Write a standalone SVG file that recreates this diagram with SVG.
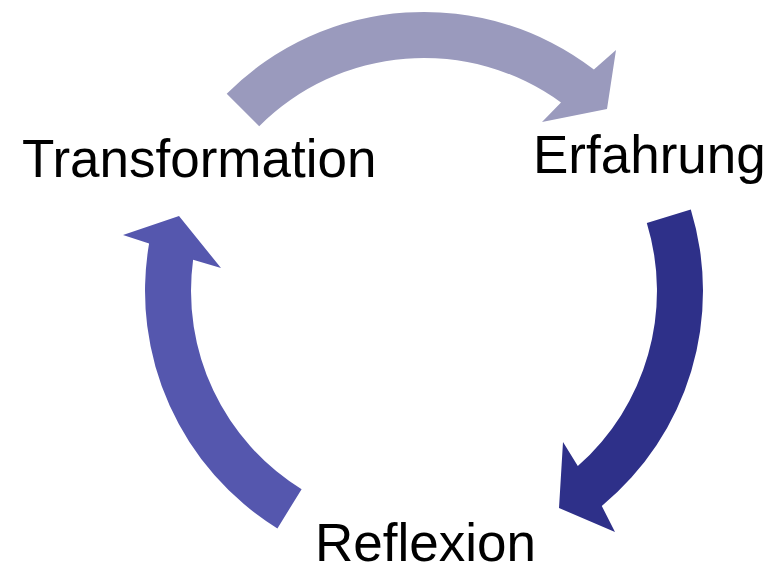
<svg xmlns="http://www.w3.org/2000/svg" width="769" height="573" viewBox="0 0 769 573">
<style>
.lbl{font-family:"Liberation Sans",Arial,sans-serif;font-size:53px;fill:#000}
</style>
<rect width="769" height="573" fill="#fff"/>
<g id="connectors">
<path id="arrow-top" fill="#9A9ABD" d="M 226.7 93.7 A 279 279 0 0 1 593.9 69.6 L 616 50 L 607 109 L 542 122 L 561 102.5 A 233 233 0 0 0 259.2 126.2 Z"/>
<path id="arrow-right" fill="#2E3089" d="M 690.8 209.4 A 279 279 0 0 1 601.8 506 L 615 532 L 559 508 L 563 442 L 577.8 466 A 233 233 0 0 0 646.8 222.9 Z"/>
<path id="arrow-left" fill="#5557AE" d="M 277.4 528.4 A 279 279 0 0 1 149.1 243.5 L 123 235 L 179 216 L 221 268 L 193.1 259.8 A 233 233 0 0 0 301.6 489.2 Z"/>
</g>
<g id="node-transformation"><text class="lbl" x="22" y="177">Transformation</text></g>
<g id="node-erfahrung"><text class="lbl" x="533" y="173">Erfahrung</text></g>
<g id="node-reflexion"><text class="lbl" x="315" y="561">Reflexion</text></g>
</svg>
